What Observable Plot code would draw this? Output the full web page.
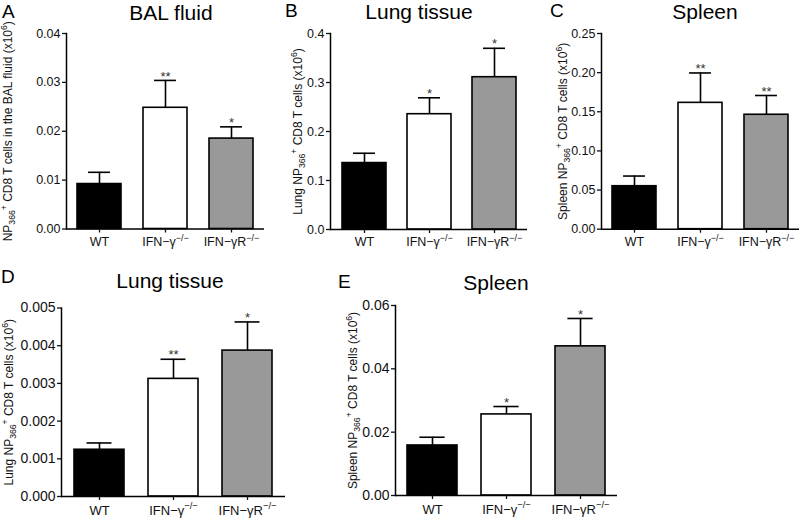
<!DOCTYPE html>
<html><head><meta charset="utf-8">
<script src="https://cdn.jsdelivr.net/npm/d3@7"></script>
<script src="https://cdn.jsdelivr.net/npm/@observablehq/plot@0.6"></script>
<style>
body{margin:0;background:#fff;font-family:"Liberation Sans",Arial,sans-serif;}
#root{position:relative;width:800px;height:520px;overflow:hidden;background:#fff;}
.panel{position:absolute;}
.panel svg{overflow:visible;}
.txt{position:absolute;white-space:nowrap;line-height:1;color:#000;}
.title{transform:translateX(-50%);}
</style></head><body><div id="root"></div>
<script>
// ---- data ----
const groups = ["WT", "IFN-γ-/-", "IFN-γR-/-"];
const groupTickLabels = ["WT", "IFN−γ^{−/−}", "IFN−γR^{−/−}"];
const barFills = ["#000000", "#ffffff", "#999999"];

const balMean = [0.0092, 0.0248, 0.0185];
const balSem = [0.0024, 0.0056, 0.0024];
const balStars = ["", "**", "*"];
const balTicks = [0, 0.01, 0.02, 0.03, 0.04];

const lungMean = [0.1356, 0.2353, 0.3108];
const lungSem = [0.020, 0.0335, 0.059];
const lungStars = ["", "*", "*"];
const lungTicks = [0, 0.1, 0.2, 0.3, 0.4];

const spleenMean = [0.0549, 0.1614, 0.1462];
const spleenSem = [0.013, 0.0382, 0.0246];
const spleenStars = ["", "**", "**"];
const spleenTicks = [0, 0.05, 0.10, 0.15, 0.20, 0.25];

const lung2Mean = [0.00124, 0.00312, 0.00387];
const lung2Sem = [0.00018, 0.00052, 0.00076];
const lung2Stars = ["", "**", "*"];
const lung2Ticks = [0, 0.001, 0.002, 0.003, 0.004, 0.005];

const spleen2Mean = [0.0158, 0.0256, 0.0471];
const spleen2Sem = [0.0026, 0.0025, 0.0088];
const spleen2Stars = ["", "*", "*"];
const spleen2Ticks = [0, 0.02, 0.04, 0.06];

const panelLetters = ["A", "B", "C", "D", "E"];
const panelTitles = ["BAL fluid", "Lung tissue", "Spleen", "Lung tissue", "Spleen"];
const yLabels = [
  "NP_{366}^{+} CD8 T cells in the BAL fluid (x10^{6})",
  "Lung NP_{366}^{+} CD8 T cells (x10^{6})",
  "Spleen NP_{366}^{+} CD8 T cells (x10^{6})",
  "Lung NP_{366}^{+} CD8 T cells (x10^{6})",
  "Spleen NP_{366}^{+} CD8 T cells (x10^{6})"
];

// ---- helpers ----
const svgNS = "http://www.w3.org/2000/svg";
function rich(el, s, fs) {
  const parts = s.split(/(\^\{[^}]*\}|_\{[^}]*\})/).filter(p => p);
  el.textContent = "";
  let shift = 0;
  for (const p of parts) {
    const t = document.createElementNS(svgNS, "tspan");
    let target = 0, txt = p, small = false;
    if (p.startsWith("^{")) { target = -0.42 * fs; txt = p.slice(2, -1); small = true; }
    else if (p.startsWith("_{")) { target = 0.28 * fs; txt = p.slice(2, -1); small = true; }
    t.setAttribute("dy", (target - shift).toFixed(2));
    shift = target;
    if (small) t.setAttribute("font-size", (0.72 * fs).toFixed(2));
    t.textContent = txt;
    el.appendChild(t);
  }
}

const root = document.getElementById("root");
function addText(cls, txt, x, baseline, fs) {
  const d = document.createElement("div");
  d.className = "txt " + cls;
  d.style.fontSize = fs + "px";
  d.style.left = x + "px";
  d.style.top = (baseline - 0.8465 * fs) + "px";
  d.textContent = txt;
  root.appendChild(d);
}

function panel(cfg) {
  const data = groups.map((g, i) => ({
    group: g, mean: cfg.mean[i], sem: cfg.sem[i], top: cfg.mean[i] + cfg.sem[i], star: cfg.stars[i]
  }));
  const [fl, fr, ft, fb] = cfg.frame;
  const step = (fr - fl) / 3;
  const bw = step * 0.67;
  const chart = Plot.plot({
    width: cfg.w, height: cfg.h,
    marginLeft: fl - cfg.x, marginRight: cfg.x + cfg.w - fr,
    marginTop: ft - cfg.y, marginBottom: cfg.y + cfg.h - fb,
    style: {fontFamily: "'Liberation Sans', Arial, sans-serif", color: "#111", background: "transparent", overflow: "visible"},
    x: {domain: groups, paddingInner: 0.33, paddingOuter: 0.165},
    y: {domain: [0, cfg.ticks[cfg.ticks.length - 1]]},
    color: {domain: groups, range: barFills},
    marks: [
      Plot.barY(data, {x: "group", y: "mean", fill: "group", stroke: "#000", strokeWidth: 1.6}),
      Plot.ruleX(data, {x: "group", y1: "mean", y2: "top", stroke: "#000", strokeWidth: 1.6}),
      Plot.tickY(data, {x: "group", y: "top", stroke: "#000", strokeWidth: 1.6, insetLeft: bw / 4, insetRight: bw / 4}),
      Plot.text(data, {x: "group", y: "top", text: "star", dy: -4, fontSize: 13, fill: "#333"}),
      Plot.frame({anchor: "left", stroke: "#000", strokeWidth: 1.5}),
      Plot.ruleY([0], {stroke: "#000", strokeWidth: 1.5}),
      Plot.axisX({tickSize: 4, tickPadding: cfg.xPad, fontSize: cfg.xFont, strokeWidth: 1.3, label: null,
        tickFormat: d => groupTickLabels[groups.indexOf(d)]}),
      Plot.axisY({ticks: cfg.ticks, tickFormat: d3.format(cfg.fmt), tickSize: 4, tickPadding: 2, fontSize: cfg.yFont,
        strokeWidth: 1.3, label: cfg.label, labelAnchor: "center", labelOffset: cfg.labelOffset})
    ]
  });
  chart.querySelectorAll('g[aria-label="y-axis label"] text').forEach(t => {
    t.setAttribute("font-size", cfg.labelFont);
    rich(t, cfg.label, cfg.labelFont);
  });
  chart.querySelectorAll('g[aria-label="x-axis tick label"] text').forEach(t => {
    if (t.textContent.includes("^{")) rich(t, t.textContent, cfg.xFont);
  });
  const div = document.createElement("div");
  div.className = "panel";
  div.style.left = cfg.x + "px";
  div.style.top = cfg.y + "px";
  div.appendChild(chart);
  root.appendChild(div);
}

panel({x: 0, y: 0, w: 268, h: 262, frame: [66, 264, 33, 228.5], mean: balMean, sem: balSem, stars: balStars,
  ticks: balTicks, fmt: ".2f", label: yLabels[0], labelOffset: 63, labelFont: 12, xFont: 12.5, yFont: 12.5, xPad: 4});
panel({x: 270, y: 0, w: 260, h: 262, frame: [330, 527, 33, 229], mean: lungMean, sem: lungSem, stars: lungStars,
  ticks: lungTicks, fmt: ".1f", label: yLabels[1], labelOffset: 37, labelFont: 12, xFont: 12.5, yFont: 12.5, xPad: 4});
panel({x: 535, y: 0, w: 265, h: 262, frame: [601, 799, 33, 228.7], mean: spleenMean, sem: spleenSem, stars: spleenStars,
  ticks: spleenTicks, fmt: ".2f", label: yLabels[2], labelOffset: 43, labelFont: 12, xFont: 12.5, yFont: 12.5, xPad: 4});
panel({x: 0, y: 262, w: 300, h: 258, frame: [61, 285, 307.5, 496], mean: lung2Mean, sem: lung2Sem, stars: lung2Stars,
  ticks: lung2Ticks, fmt: ".3f", label: yLabels[3], labelOffset: 57, labelFont: 12, xFont: 13, yFont: 14, xPad: 5});
panel({x: 310, y: 262, w: 320, h: 258, frame: [395, 617, 305, 495], mean: spleen2Mean, sem: spleen2Sem, stars: spleen2Stars,
  ticks: spleen2Ticks, fmt: ".2f", label: yLabels[4], labelOffset: 47, labelFont: 12, xFont: 13, yFont: 14, xPad: 5});

// panel letters and titles
const letterPos = [[2, 18], [285, 17], [550, 17], [1, 283], [338, 288]];
const titlePos = [[171, 20], [419, 19], [705, 19], [170, 288], [496, 290]];
panelLetters.forEach((l, i) => addText("letter", l, letterPos[i][0], letterPos[i][1], 19));
panelTitles.forEach((t, i) => addText("title", t, titlePos[i][0], titlePos[i][1], 21));
</script></body></html>
